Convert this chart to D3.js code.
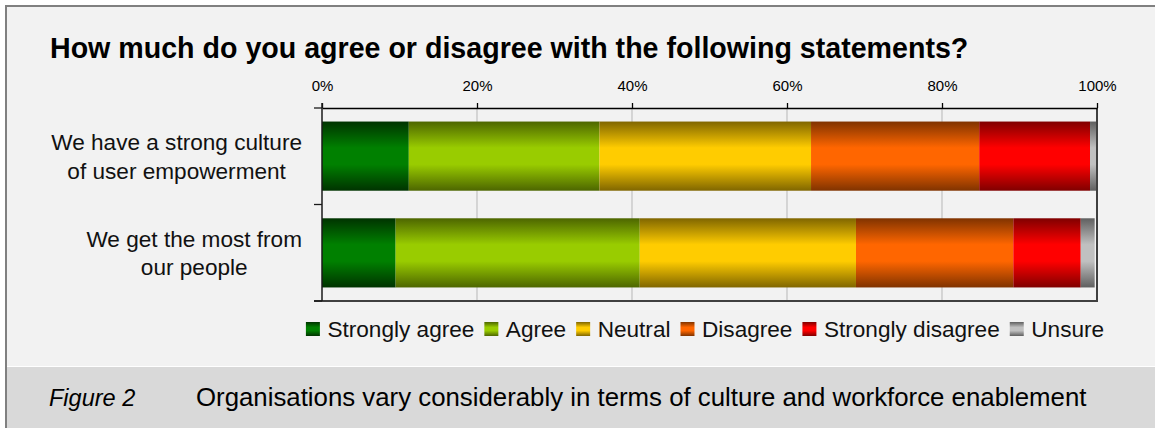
<!DOCTYPE html>
<html>
<head>
<meta charset="utf-8">
<script src="https://cdn.jsdelivr.net/npm/d3@7/dist/d3.min.js"></script>
<style>
  html, body { margin: 0; padding: 0; background: #ffffff; }
  svg { display: block; font-family: "Liberation Sans", Arial, Helvetica, sans-serif; }
</style>
</head>
<body>
<svg id="chart" width="1155" height="428"></svg>
<script>
// ---- Data ----
const categories = ["We have a strong culture of user empowerment", "We get the most from our people"];
const categoryLines = [["We have a strong culture", "of user empowerment"], ["We get the most from", "our people"]];
const seriesNames = ["Strongly agree", "Agree", "Neutral", "Disagree", "Strongly disagree", "Unsure"];
const stronglyAgree = [11.2, 9.5];
const agree = [24.6, 31.5];
const neutral = [27.3, 27.9];
const disagree = [21.7, 20.3];
const stronglyDisagree = [14.3, 8.7];
const unsure = [0.9, 1.8];
const xTicks = [0, 20, 40, 60, 80, 100];
const titleText = "How much do you agree or disagree with the following statements?";
const captionLabel = "Figure 2";
const captionText = "Organisations vary considerably in terms of culture and workforce enablement";

// ---- Styles ----
const seriesColors = [
  { dark: "#003300", light: "#008000" },
  { dark: "#4d6600", light: "#99cc00" },
  { dark: "#806600", light: "#ffcc00" },
  { dark: "#803300", light: "#ff6600" },
  { dark: "#800000", light: "#ff0000" },
  { dark: "#5f5f5f", light: "#c0c0c0" }
];

const seriesValues = [stronglyAgree, agree, neutral, disagree, stronglyDisagree, unsure];
const table = categories.map((c, i) => {
  const row = { category: c };
  seriesNames.forEach((s, j) => row[s] = seriesValues[j][i]);
  return row;
});
const stacked = d3.stack().keys(seriesNames)(table);

const svg = d3.select("#chart");
const W = 1155, H = 428;

// gradients
const defs = svg.append("defs");
seriesColors.forEach((c, i) => {
  const g = defs.append("linearGradient").attr("id", "grad" + i)
    .attr("x1", 0).attr("y1", 0).attr("x2", 0).attr("y2", 1);
  g.append("stop").attr("offset", "0%").attr("stop-color", c.dark);
  g.append("stop").attr("offset", "38%").attr("stop-color", c.light);
  g.append("stop").attr("offset", "62%").attr("stop-color", c.light);
  g.append("stop").attr("offset", "100%").attr("stop-color", c.dark);
});

// background panel
svg.append("rect").attr("x", 0).attr("y", 0).attr("width", W).attr("height", H).attr("fill", "#ffffff");
svg.append("rect").attr("x", 6).attr("y", 6).attr("width", W + 10).attr("height", H + 10)
  .attr("fill", "#f2f2f2").attr("stroke", "#808080").attr("stroke-width", 2);
svg.append("rect").attr("x", 7).attr("y", 367).attr("width", W).attr("height", H - 367).attr("fill", "#d9d9d9");
svg.append("line").attr("x1", 7).attr("x2", W).attr("y1", 366.5).attr("y2", 366.5)
  .attr("stroke", "#ffffff").attr("stroke-width", 1);

// title
svg.append("text").attr("x", 50).attr("y", 58).attr("font-size", 28.6).attr("font-weight", "bold")
  .attr("fill", "#000").text(titleText);

// scales
const x = d3.scaleLinear().domain([0, 100]).range([322, 1097]);
const y = d3.scaleBand().domain(categories).range([108, 301]).paddingInner(0.285).paddingOuter(0.14);

// gridlines
svg.append("g").selectAll("line").data(xTicks.filter(d => d > 0 && d < 100)).join("line")
  .attr("x1", d => x(d)).attr("x2", d => x(d))
  .attr("y1", y.range()[0]).attr("y2", y.range()[1])
  .attr("stroke", "#c4c4c4").attr("stroke-width", 1.3);

// bars
svg.append("g").selectAll("g").data(stacked).join("g")
  .attr("fill", (d, i) => "url(#grad" + i + ")")
  .selectAll("rect").data(d => d).join("rect")
  .attr("x", d => x(d[0]))
  .attr("width", d => x(d[1]) - x(d[0]))
  .attr("y", d => y(d.data.category))
  .attr("height", y.bandwidth());

// plot right and bottom border
svg.append("line").attr("x1", x(100)).attr("x2", x(100)).attr("y1", y.range()[0]).attr("y2", y.range()[1] + 1)
  .attr("stroke", "#404040").attr("stroke-width", 2);
svg.append("line").attr("x1", 314).attr("x2", x(100) + 1).attr("y1", y.range()[1]).attr("y2", y.range()[1])
  .attr("stroke", "#404040").attr("stroke-width", 2);

// top axis
const xAxis = d3.axisTop(x).tickValues(xTicks).tickFormat(d => d + "%").tickSizeInner(5).tickSizeOuter(0).tickPadding(12);
const gx = svg.append("g").attr("transform", `translate(0,${y.range()[0]})`).call(xAxis);
gx.select(".domain").attr("stroke", "#000").attr("stroke-width", 1.3);
gx.selectAll(".tick line").attr("stroke", "#000").attr("stroke-width", 1.3);
gx.selectAll(".tick text").attr("font-size", 15).attr("fill", "#000")
  .attr("font-family", "'Liberation Sans', Arial, sans-serif");

// left axis (category boundaries)
const step = y.step();
const bounds = [y.range()[0]].concat(categories.slice(0, -1).map(c => y(c) + y.bandwidth() + (step - y.bandwidth()) / 2)).concat([y.range()[1]]);
svg.append("line").attr("x1", x(0)).attr("x2", x(0)).attr("y1", y.range()[0] - 5).attr("y2", y.range()[1])
  .attr("stroke", "#1a1a1a").attr("stroke-width", 1.5);
svg.append("g").selectAll("line").data(bounds).join("line")
  .attr("x1", x(0) - 8).attr("x2", x(0)).attr("y1", d => d).attr("y2", d => d)
  .attr("stroke", "#1a1a1a").attr("stroke-width", 1.3);

// category labels
const labelRight = 302;
const lineH = 28.5;
categories.forEach((c, i) => {
  const lines = categoryLines[i];
  const g = svg.append("g");
  const texts = g.selectAll("text").data(lines).join("text")
    .attr("font-size", 22.6).attr("fill", "#111").text(d => d);
  let maxW = 0;
  texts.each(function () { maxW = Math.max(maxW, this.getComputedTextLength()); });
  const cy = y(c) + y.bandwidth() / 2;
  texts.attr("text-anchor", "middle").attr("x", labelRight - maxW / 2)
    .attr("y", (d, k) => cy + (k - (lines.length - 1) / 2) * lineH)
    .attr("dy", "0.36em");
});

// legend
const legend = svg.append("g");
const sw = 14, gap1 = 7.5, gap2 = 10, legendCy = 329;
const items = legend.selectAll("g").data(seriesNames).join("g");
items.append("rect").attr("width", sw).attr("height", sw).attr("y", legendCy - sw / 2)
  .attr("fill", (d, i) => "url(#grad" + i + ")");
items.append("text").attr("x", sw + gap1).attr("y", legendCy).attr("dy", "0.36em")
  .attr("font-size", 22.6).attr("fill", "#111").text(d => d);
let cx = 0;
const offsets = [];
items.each(function () {
  offsets.push(cx);
  const tw = d3.select(this).select("text").node().getComputedTextLength();
  cx += sw + gap1 + tw + gap2;
});
const totalW = cx - gap2;
const legendStart = 705 - totalW / 2;
items.attr("transform", (d, i) => `translate(${legendStart + offsets[i]},0)`);

// caption
svg.append("text").attr("x", 49).attr("y", 406).attr("font-size", 23.5).attr("font-style", "italic")
  .attr("fill", "#000").text(captionLabel);
svg.append("text").attr("x", 196).attr("y", 406).attr("font-size", 25.8)
  .attr("fill", "#000").text(captionText);
</script>
</body>
</html>
